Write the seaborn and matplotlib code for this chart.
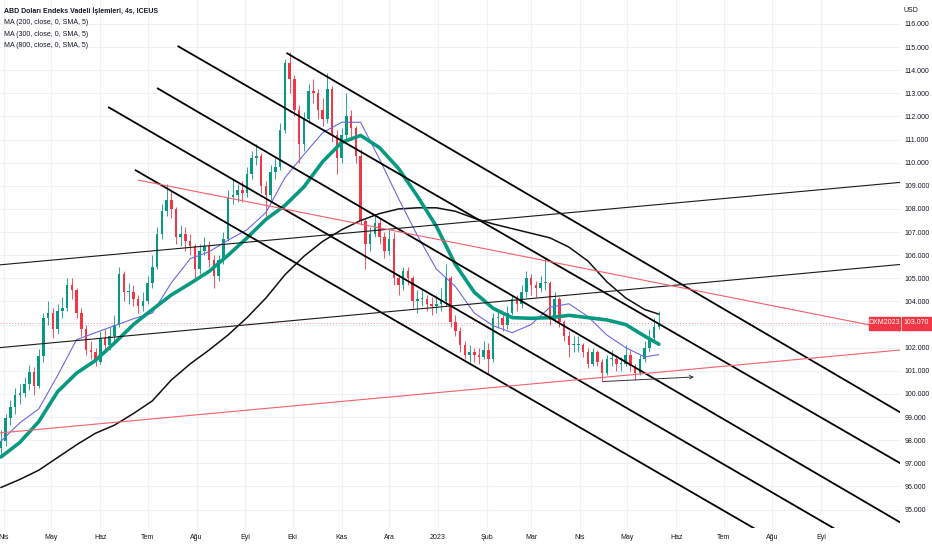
import numpy as np
import pandas as pd
import matplotlib
matplotlib.use("Agg")
import matplotlib.pyplot as plt
import matplotlib.dates as mdates
from matplotlib.patches import Rectangle
import seaborn as sns

# ---------------- data ----------------
title_text = "ABD Doları Endeks Vadeli İşlemleri, 4s, ICEUS"
legend_texts = ["MA (200, close, 0, SMA, 5)", "MA (300, close, 0, SMA, 5)", "MA (800, close, 0, SMA, 5)"]
symbol = "DXM2023"
last_price = 103.07
currency = "USD"

candle_start = "2022-03-30"
candle_step = "3D"
first_open = 97.65
closes = [97.95, 98.95, 99.45, 99.95, 100.05, 100.45, 100.95, 100.35, 101.65, 103.3,
          103.5, 102.8, 103.6, 103.7, 104.7, 104.5, 103.5, 102.8, 101.9, 101.8,
          101.4, 102.4, 102.1, 102.5, 103.0, 105.2, 104.4, 104.4, 104.1, 103.8,
          104.0, 104.8, 105.5, 106.9, 107.9, 108.4, 108.0, 106.8, 106.9, 106.6,
          106.4, 105.4, 106.2, 106.4, 105.8, 105.1, 105.8, 106.7, 108.5, 108.6,
          108.8, 108.7, 109.5, 110.2, 110.3, 109.0, 108.6, 109.6, 109.8, 111.4,
          114.3, 113.6, 112.3, 110.8, 111.9, 113.1, 113.0, 112.3, 111.9, 113.2,
          111.2, 110.2, 111.2, 112.0, 111.5, 110.3, 107.5, 106.5, 106.9, 107.4,
          106.8, 106.2, 106.7, 105.0, 104.7, 105.3, 105.0, 104.0, 104.1, 104.1,
          103.9, 103.8, 103.9, 104.0, 105.0, 103.1, 102.7, 102.1, 101.7, 101.8,
          101.7, 101.6, 101.9, 101.5, 103.3, 103.3, 103.0, 103.5, 104.1, 103.9,
          104.4, 105.0, 104.7, 104.6, 104.8, 104.8, 103.2, 104.1, 103.1, 102.5,
          102.1, 102.1, 102.1, 101.8, 101.3, 101.8, 101.4, 100.9, 101.5, 101.5,
          101.3, 101.3, 101.7, 101.2, 100.9, 101.5, 102.0, 102.4, 102.9, 103.07]
highs = [98.45, 99.15, 99.75, 100.25, 100.45, 100.75, 101.25, 101.15, 101.95, 103.5,
         104.0, 103.7, 103.9, 104.2, 105.0, 105.0, 104.6, 103.7, 103.0, 102.3,
         102.0, 102.7, 102.8, 102.9, 103.4, 105.5, 105.3, 104.8, 104.7, 104.3,
         104.4, 105.1, 106.0, 107.2, 108.2, 109.1, 108.8, 108.1, 107.3, 107.2,
         106.9, 106.5, 106.5, 106.8, 106.6, 106.0, 106.0, 107.0, 108.8, 109.3,
         109.1, 109.2, 109.8, 110.5, 110.8, 110.4, 109.2, 109.9, 110.2, 111.7,
         114.5, 114.8, 113.8, 112.5, 112.2, 113.4, 113.6, 113.2, 112.8, 113.9,
         113.3, 111.4, 111.5, 113.0, 112.3, 111.6, 110.6, 107.6, 107.2, 107.8,
         107.6, 107.0, 107.1, 107.0, 105.2, 105.5, 105.5, 105.1, 104.5, 104.5,
         104.3, 104.2, 104.3, 104.6, 105.6, 105.1, 103.4, 102.9, 102.3, 102.1,
         102.0, 102.0, 102.3, 102.2, 103.5, 103.6, 103.4, 103.8, 104.3, 104.3,
         104.7, 105.3, 105.2, 104.9, 105.1, 105.9, 104.9, 104.4, 104.2, 103.2,
         102.7, 102.5, 102.5, 102.2, 102.0, 102.0, 101.9, 101.5, 101.7, 101.9,
         101.7, 101.6, 102.1, 101.9, 101.3, 101.7, 102.3, 102.8, 103.3, 103.6]
lows = [97.35, 97.75, 98.65, 99.15, 99.55, 99.85, 100.15, 99.95, 100.25, 101.4,
        103.0, 102.4, 102.6, 103.3, 103.6, 104.1, 103.3, 102.5, 101.7, 101.5,
        101.2, 101.3, 101.8, 101.9, 102.2, 102.9, 104.0, 103.9, 103.8, 103.5,
        103.6, 103.9, 104.6, 105.4, 106.7, 107.7, 107.6, 106.5, 106.4, 106.2,
        106.0, 105.0, 105.2, 106.0, 105.5, 104.6, 104.9, 105.6, 106.6, 108.2,
        108.3, 108.3, 108.5, 109.3, 109.9, 108.7, 107.7, 108.4, 109.3, 109.7,
        111.3, 113.0, 112.0, 110.0, 110.5, 111.7, 112.6, 111.9, 111.6, 111.7,
        110.9, 109.5, 110.0, 111.0, 111.0, 110.0, 107.3, 105.4, 106.2, 106.8,
        106.5, 105.9, 106.0, 104.7, 104.3, 104.5, 104.7, 103.7, 103.5, 103.8,
        103.6, 103.4, 103.5, 103.6, 103.8, 102.9, 102.5, 101.8, 101.5, 101.4,
        101.4, 101.3, 101.5, 100.8, 101.4, 102.9, 102.7, 102.8, 103.4, 103.6,
        103.7, 104.2, 104.3, 104.2, 104.4, 104.5, 103.0, 103.1, 102.9, 102.3,
        101.6, 101.8, 101.8, 101.6, 101.1, 101.2, 101.2, 100.5, 100.8, 101.2,
        101.0, 101.0, 101.2, 101.0, 100.6, 100.8, 101.4, 101.8, 102.3, 102.8]

# moving averages sampled on every 4th candle plus the last one
ma_stride = 4
ma200 = [97.95, 98.75, 99.35, 100.8, 102.35, 102.65, 102.95, 103.25, 103.5, 104.8,
         105.85, 106.15, 106.65, 107.1, 107.85, 109.35, 110.35, 111.3, 111.75, 111.75,
         110.15, 108.45, 106.85, 105.4, 104.65, 103.5, 102.95, 102.65, 103.0, 103.75,
         103.9, 103.35, 102.55, 102.0, 101.6, 101.7]
ma300 = [97.27, 97.9, 98.8, 100.1, 100.9, 101.45, 102.2, 103.0, 103.65, 104.28,
         104.78, 105.3, 106.0, 106.75, 107.55, 108.15, 108.95, 110.05, 110.88, 111.18,
         110.65, 109.75, 108.55, 107.25, 105.6, 104.4, 103.7, 103.3, 103.27, 103.3,
         103.4, 103.3, 103.2, 103.0, 102.5, 102.15]
ma800 = [95.95, 96.3, 96.7, 97.25, 97.8, 98.3, 98.65, 99.15, 99.7, 100.6,
         101.3, 101.9, 102.55, 103.3, 104.15, 105.15, 105.95, 106.6, 107.1, 107.5,
         107.8, 108.0, 108.05, 108.05, 107.9, 107.6, 107.35, 107.15, 106.95, 106.75,
         106.35, 105.75, 104.85, 104.15, 103.65, 103.45]

# drawn trend lines
chan_start_dates = ["2022-09-27", "2022-07-20", "2022-07-07", "2022-06-06", "2022-06-23"]
chan_start_prices = [114.75, 115.05, 113.23, 112.41, 109.69]
chan_end_dates = ["2023-10-21", "2023-10-21", "2023-10-21", "2023-09-25", "2023-08-06"]
chan_end_prices = [99.2, 97.0, 94.44, 93.55, 93.53]

rise_start_dates = ["2022-03-29", "2022-03-29"]
rise_start_prices = [105.58, 102.0]
rise_end_dates = ["2023-10-21", "2023-10-21"]
rise_end_prices = [109.15, 105.6]

red_start_dates = ["2022-06-25", "2022-03-29"]
red_start_prices = [109.25, 98.31]
red_end_dates = ["2023-10-21", "2023-10-21"]
red_end_prices = [102.72, 101.9]

arrow_dates = ["2023-04-14", "2023-06-14"]
arrow_prices = [100.53, 100.74]

month_labels = ["Nis", "May", "Haz", "Tem", "Ağu", "Eyl", "Eki", "Kas", "Ara", "2023",
                "Şub", "Mar", "Nis", "May", "Haz", "Tem", "Ağu", "Eyl"]
month_first = "2022-04-01"
price_ticks = list(range(95, 117))

# ---------------- style ----------------
sns.set_theme(style="white")
plt.rcParams["font.family"] = ["Liberation Sans Narrow", "Liberation Sans", "DejaVu Sans"]
UP = "#089981"
DOWN = "#f23645"
TXT = "#131722"
GRID = "#eef1f6"
FS = 5.0

W, H = 932, 550
fig = plt.figure(figsize=(W / 100, H / 100), dpi=100)
ax = fig.add_axes([0, 22 / H, 900 / W, 528 / H])

dates = pd.date_range(candle_start, periods=len(closes), freq=candle_step)
opens = [first_open] + closes[:-1]
o = np.array(opens)
c = np.array(closes)
hi = np.array(highs)
lo = np.array(lows)
cols = [UP if cc >= oo else DOWN for oo, cc in zip(o, c)]

ax.vlines(dates, lo, hi, colors=cols, lw=0.6, zorder=2)
body_lo = np.minimum(o, c)
body_h = np.maximum(np.abs(c - o), 0.04)
ax.bar(dates, body_h, bottom=body_lo, width=1.6, color=cols, linewidth=0, zorder=3)

ma_dates = list(dates[::ma_stride]) + [dates[-1]]
ma_df = pd.DataFrame({"date": ma_dates, "ma200": ma200, "ma300": ma300, "ma800": ma800})
sns.lineplot(data=ma_df, x="date", y="ma800", ax=ax, color="#111111", lw=1.1, zorder=4)
sns.lineplot(data=ma_df, x="date", y="ma200", ax=ax, color="#6c68e0", lw=0.8, zorder=4)
sns.lineplot(data=ma_df, x="date", y="ma300", ax=ax, color=UP, lw=2.6, zorder=5)

def d(s):
    return pd.Timestamp(s)

for sd, sp, ed, ep in zip(chan_start_dates, chan_start_prices, chan_end_dates, chan_end_prices):
    ax.plot([d(sd), d(ed)], [sp, ep], color="#000000", lw=1.3, zorder=6, solid_capstyle="butt")
for sd, sp, ed, ep in zip(rise_start_dates, rise_start_prices, rise_end_dates, rise_end_prices):
    ax.plot([d(sd), d(ed)], [sp, ep], color="#1a1a1a", lw=0.8, zorder=6)
for sd, sp, ed, ep in zip(red_start_dates, red_start_prices, red_end_dates, red_end_prices):
    ax.plot([d(sd), d(ed)], [sp, ep], color="#f4606c", lw=0.8, zorder=6)

ax.annotate("", xy=(d(arrow_dates[1]), arrow_prices[1]), xytext=(d(arrow_dates[0]), arrow_prices[0]),
            arrowprops=dict(arrowstyle="->", color="#333333", lw=0.7, mutation_scale=6), zorder=7)

ax.axhline(last_price, color=DOWN, ls=(0, (1, 2)), lw=0.7, alpha=0.55, zorder=1)

base = mdates.date2num(pd.Timestamp(month_first))
ppd = 1.578
ax.set_xlim(base - 4 / ppd, base + 896 / ppd)
ax.set_ylim(116 - 504 / 23.12, 116 + 24 / 23.12)

month_dates = pd.date_range(month_first, periods=len(month_labels), freq="MS")
ax.set_xticks(month_dates)
ax.set_xticklabels(month_labels)
ax.yaxis.tick_right()
ax.set_yticks(price_ticks)
# the tick hidden behind the last-price label is left blank, as in the reference
ax.set_yticklabels(["" if abs(p - last_price) < 0.5 else f"{p:.3f}" for p in price_ticks])
ax.tick_params(axis="y", length=0, pad=3, labelsize=FS, labelcolor=TXT)
ax.tick_params(axis="x", length=0, pad=4.5, labelsize=FS, labelcolor=TXT)
ax.grid(True, color=GRID, lw=0.8)
ax.set_axisbelow(True)
ax.set_xlabel("")
ax.set_ylabel("")
for s in ax.spines.values():
    s.set_visible(False)

# header texts
fig.text(4 / W, 1 - 11.5 / H, title_text, fontsize=5.0, color=TXT, weight="bold", va="center", ha="left")
for k, t in enumerate(legend_texts):
    fig.text(4 / W, 1 - (23 + 11.3 * k) / H, t, fontsize=5.0, color=TXT, va="center", ha="left")
fig.text(904 / W, 1 - 10 / H, currency, fontsize=FS, color=TXT, va="center", ha="left")

# last price labels
yb = 1 - 329.5 / H
bh = 13 / H
fig.add_artist(Rectangle((869 / W, yb), 31 / W, bh, transform=fig.transFigure, color=DOWN, zorder=10))
fig.add_artist(Rectangle((901.5 / W, yb), 30.5 / W, bh, transform=fig.transFigure, color=DOWN, zorder=10))
fig.text(884.5 / W, yb + bh / 2, symbol, fontsize=FS, color="white", va="center", ha="center", zorder=11)
fig.text(916.5 / W, yb + bh / 2, f"{last_price:.3f}", fontsize=FS, color="white", va="center", ha="center", zorder=11)

fig.savefig("out.png", dpi=100)
